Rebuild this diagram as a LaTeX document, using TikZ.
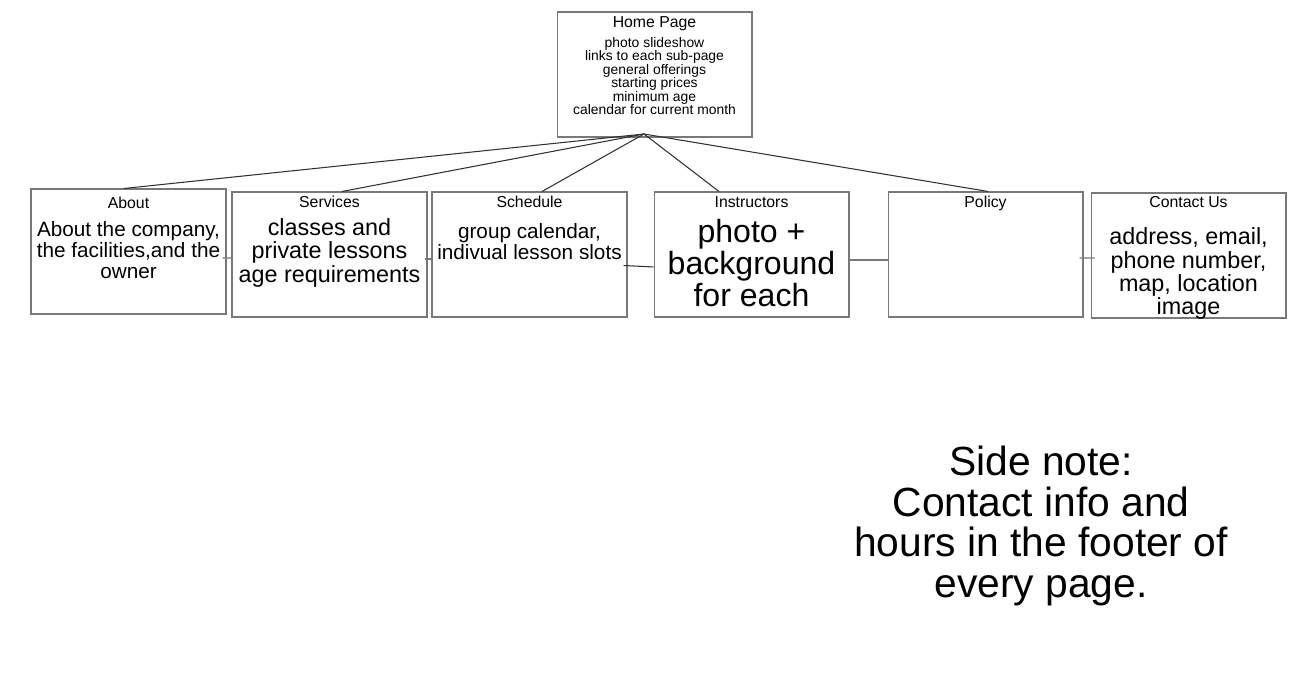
\documentclass[tikz,border=0pt]{standalone}
\usepackage{fontspec}
\setmainfont{Liberation Sans}
\usetikzlibrary{positioning}
\definecolor{boxgray}{RGB}{120,120,120}
\definecolor{linegray}{RGB}{50,50,50}

\begin{document}
\begin{tikzpicture}[%
    x=0.02cm,
    y=0.02cm,
    page/.style={%
        draw=boxgray,
        line width=0.6pt,
        minimum width=3.9cm,
        minimum height=2.5cm,
        inner sep=0pt
    },
    pageTitle/.style={%
        font=\fontsize{9}{10}\selectfont,
        text height=0.73em,
        text depth=0pt,
        inner sep=0pt
    },
    homeList/.style={%
        font=\fontsize{7.9}{7.65}\selectfont,
        align=center,
        inner sep=0pt
    },
    smallText/.style={%
        font=\fontsize{11.8}{11.9}\selectfont,
        align=center,
        inner sep=0pt
    },
    mediumText/.style={%
        font=\fontsize{13.3}{13.3}\selectfont,
        align=center,
        inner sep=0pt
    },
    bigText/.style={%
        font=\fontsize{18.25}{18.4}\selectfont,
        align=center,
        inner sep=0pt
    },
    noteText/.style={%
        font=\fontsize{23.2}{23}\selectfont,
        align=center,
        inner sep=0pt
    },
    link/.style={%
        draw=linegray,
        line width=0.6pt
    },
    sideLink/.style={%
        draw=boxgray,
        line width=0.6pt
    }
]
\path[use as bounding box, fill=white] (0,0) rectangle (1311,-685);

% Home page
    \node[page] (home) at (654.5,-74.5) {};
    \node[pageTitle, below=0.06cm of home.north] (homeTitle) {Home Page};
    \node[homeList, below=0.18cm of homeTitle] (homeList) {photo slideshow\\links to each sub-page\\general offerings\\starting prices\\minimum age\\calendar for current month};
    \coordinate (hub) at (644,-134);

% Sub-pages
    \node[page] (about) at (128.5,-251.5) {};
    \node[pageTitle, below=0.13cm of about.north] (aboutTitle) {About};
    \node[smallText, below=0.26cm of aboutTitle] (aboutText) {About the company,\\the facilities,and the\\owner};

    \node[page] (services) at (329.5,-254.5) {};
    \node[pageTitle, below=0.05cm of services.north] (servicesTitle) {Services};
    \node[mediumText, below=0.21cm of servicesTitle] (servicesText) {classes and\\private lessons\\age requirements};

    \node[page] (schedule) at (529.5,-254.5) {};
    \node[pageTitle, below=0.06cm of schedule.north] (scheduleTitle) {Schedule};
    \node[smallText, below=0.31cm of scheduleTitle] (scheduleText) {group calendar,\\indivual lesson slots};

    \node[page] (instructors) at (751.5,-254.5) {};
    \node[pageTitle, below=0.06cm of instructors.north] (instructorsTitle) {Instructors};
    \node[bigText, below=0.21cm of instructorsTitle] (instructorsText) {photo +\\background\\for each};

    \node[page] (policy) at (985.5,-254.5) {};
    \node[pageTitle, below=0.06cm of policy.north] (policyTitle) {Policy};

    \node[page] (contact) at (1188.5,-255.5) {};
    \node[pageTitle, below=0.04cm of contact.north] (contactTitle) {Contact Us};
    \node[mediumText, below=0.39cm of contactTitle] (contactText) {address, email,\\phone number,\\map, location\\image};

% Side note
    \node[noteText] (sideNote) at (1041,-526) {Side note:\\Contact info and\\hours in the footer of\\every page.};

% Lines
\draw[link] (hub) -- ([xshift=-0.09cm]about.north);
\draw[link] (hub) -- ([xshift=0.25cm]services.north);
\draw[link] (hub) -- ([xshift=0.25cm]schedule.north);
\draw[link] (hub) -- ([xshift=-0.65cm]instructors.north);
\draw[link] (hub) -- ([xshift=0.05cm]policy.north);

\draw[sideLink] ([xshift=-0.08cm,yshift=-0.13cm]about.east) -- ([xshift=0.02cm,yshift=-0.07cm]services.west);
\draw[sideLink] ([xshift=-0.06cm,yshift=-0.09cm]services.east) -- ([xshift=0.02cm,yshift=-0.09cm]schedule.west);
\draw[link] ([xshift=-0.08cm,yshift=-0.22cm]schedule.east) -- ([yshift=-0.25cm]instructors.west);
\draw[sideLink] ([yshift=-0.11cm]instructors.east) -- ([yshift=-0.11cm]policy.west);
\draw[sideLink] ([xshift=-0.08cm,yshift=-0.07cm]policy.east) -- ([xshift=0.08cm,yshift=-0.05cm]contact.west);

\end{tikzpicture}
\end{document}
